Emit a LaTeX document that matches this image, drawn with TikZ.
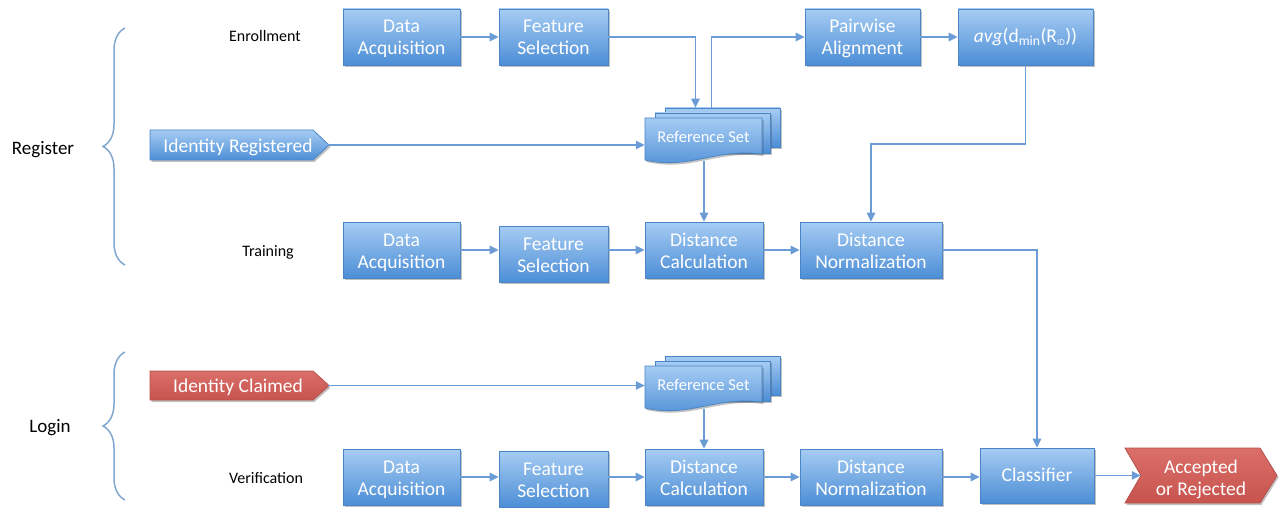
\documentclass[tikz,border=0pt]{standalone}
\usepackage{fontspec}
\setmainfont{Carlito}
\usetikzlibrary{arrows.meta,shadows,decorations.pathreplacing,calc}
\definecolor{btop}{HTML}{A6CCF3}
\definecolor{bbot}{HTML}{4C8ED6}
\definecolor{bdraw}{HTML}{4A85C8}
\definecolor{rtop}{HTML}{DA6F69}
\definecolor{rbot}{HTML}{C8534E}
\definecolor{rdraw}{HTML}{B5504B}
\definecolor{lcol}{HTML}{6C9CD5}
\definecolor{brcol}{HTML}{7FA7CF}
\tikzset{
 shad/.style={drop shadow={shadow xshift=1.5pt,shadow yshift=-2pt,opacity=0.35,fill=black!70}},
 box/.style={rectangle, draw=bdraw, line width=0.8pt, top color=btop, bottom color=bbot, text=white, align=center, inner sep=0pt, minimum height=56pt, font=\fontsize{19.5}{22}\selectfont, text height=41pt, text depth=5pt, shad},
 oneline/.style={text height=14pt, text depth=3pt},
 bluefill/.style={draw=bdraw, line width=0.8pt, top color=btop, bottom color=bbot, shad},
 redfill/.style={draw=rdraw, line width=0.8pt, top color=rtop, bottom color=rbot, shad},
 wtext/.style={text=white, align=center, inner sep=0pt, font=\fontsize{19.5}{22}\selectfont},
 lowtext/.style={text height=18pt},
 arr/.style={draw=lcol, line width=1.5pt, -{Triangle[length=9pt,width=8.5pt]}},
 lab/.style={font=\fontsize{16}{18}\selectfont, text=black},
 biglab/.style={font=\fontsize{19}{22}\selectfont, text=black},
 bracestyle/.style={draw=brcol, line width=1.5pt, decorate, decoration={brace, amplitude=22pt}},
}
\begin{document}
\begin{tikzpicture}[x=1pt,y=-1pt]
\useasboundingbox (0,0) rectangle (1280,508);

% labels and braces
\node[biglab] (reg) at (43,150) {Register};
\node[biglab] (log) at (50,428) {Login};
\draw[bracestyle] (125,265) -- (125,28);
\draw[bracestyle] (125,500) -- (125,352);
\node[lab] (enr) at (265,36) {Enrollment};
\node[lab] (trn) at (268,252) {Training};
\node[lab] (ver) at (266,478) {Verification};

% row 1
\node[box, minimum width=117pt] (DA1) at (401.5,37) {Data\\Acquisition};
\node[box, minimum width=109pt] (FS1) at (553.5,37) {Feature\\Selection};
\node[box, minimum width=115pt] (PA) at (862.5,37) {Pairwise\\Alignment};
\node[box, oneline, minimum width=135pt] (AVG) at (1025.5,37) {\textit{avg}(d\textsubscript{min}(R\textsubscript{\fontsize{9}{9}\selectfont ID}))};

% reference set 1
\node[rectangle, bluefill, minimum width=115pt, minimum height=39pt, inner sep=0pt] (RS1c) at (722.5,127.5) {};
\node[rectangle, bluefill, minimum width=115pt, minimum height=40pt, inner sep=0pt] (RS1m) at (712.5,133) {};
\path[bluefill] (645,118) -- (762,118) -- (762,154) .. controls (715,148) and (690,170) .. (645,160) -- cycle;
\node[wtext, font=\fontsize{16.5}{18}\selectfont, minimum width=117pt, minimum height=36pt] (RS1) at (703.5,137) {Reference Set};
\coordinate (RS1b) at (704,161);

% identity registered
\path[bluefill] (150,130) -- (313,130) -- (329,145) -- (313,160) -- (150,160) -- cycle;
\node[wtext, lowtext, minimum width=179pt, minimum height=30pt] (IR) at (238,145) {Identity Registered};

% row 3
\node[box, minimum width=117pt] (DA3) at (401.5,250) {Data\\Acquisition};
\node[box, minimum width=109pt] (FS3) at (553.5,254) {Feature\\Selection};
\node[box, minimum width=118pt] (DC3) at (704,250) {Distance\\Calculation};
\node[box, minimum width=142pt] (DN3) at (871,250) {Distance\\Normalization};

% reference set 2
\node[rectangle, bluefill, minimum width=115pt, minimum height=39pt, inner sep=0pt] (RS2c) at (722.5,375.5) {};
\node[rectangle, bluefill, minimum width=115pt, minimum height=40pt, inner sep=0pt] (RS2m) at (712.5,381) {};
\path[bluefill] (645,366) -- (762,366) -- (762,402) .. controls (715,396) and (690,418) .. (645,408) -- cycle;
\node[wtext, font=\fontsize{16.5}{18}\selectfont, minimum width=117pt, minimum height=36pt] (RS2) at (703.5,385) {Reference Set};
\coordinate (RS2b) at (704,409);

% identity claimed
\path[redfill] (150,371) -- (313,371) -- (329,385.5) -- (313,400) -- (150,400) -- cycle;
\node[wtext, lowtext, minimum width=179pt, minimum height=29pt] (IC) at (238,385.5) {Identity Claimed};

% row 5
\node[box, minimum width=117pt] (DA5) at (401.5,477) {Data\\Acquisition};
\node[box, minimum width=109pt] (FS5) at (553.5,479) {Feature\\Selection};
\node[box, minimum width=118pt] (DC5) at (704,477) {Distance\\Calculation};
\node[box, minimum width=142pt] (DN5) at (871,477) {Distance\\Normalization};
\node[box, oneline, minimum width=114pt, minimum height=55pt] (CL) at (1037,475.5) {Classifier};
\path[redfill] (1125,448) -- (1260,448) -- (1277,475.5) -- (1260,503) -- (1125,503) -- (1141,475.5) -- cycle;
\node[wtext, text height=44pt, text depth=5pt, minimum width=152pt, minimum height=55pt] (AR) at (1201,475.5) {Accepted\\or Rejected};

% connectors
\draw[arr] (DA1) -- (FS1);
\draw[arr] (FS1.east) -| ([xshift=-27pt]RS1c.north);
\draw[arr] ([xshift=-11pt]RS1c.north) |- (PA.west);
\draw[arr] (PA) -- (AVG);
\coordinate (k1) at (1025.5,144);
\draw[arr] (AVG.south) -- (k1) -| (DN3.north);
\draw[arr] (IR.east) -- (IR.east -| RS1.west);
\draw[arr] (RS1b) -- (DC3.north);
\draw[arr] (DA3.east) -- (DA3.east -| FS3.west);
\draw[arr] (FS3.east |- DC3.west) -- (DC3.west);
\draw[arr] (DC3) -- (DN3);
\draw[arr] (DN3.east) -| (CL.north);
\draw[arr] (IC.east) -- (IC.east -| RS2.west);
\draw[arr] (RS2b) -- (DC5.north);
\draw[arr] (DA5.east) -- (DA5.east -| FS5.west);
\draw[arr] (FS5.east |- DC5.west) -- (DC5.west);
\draw[arr] (DC5) -- (DN5);
\draw[arr] (DN5.east) -- (DN5.east -| CL.west);
\draw[arr] (CL.east) -- ([xshift=16pt]AR.west);
\end{tikzpicture}
\end{document}
